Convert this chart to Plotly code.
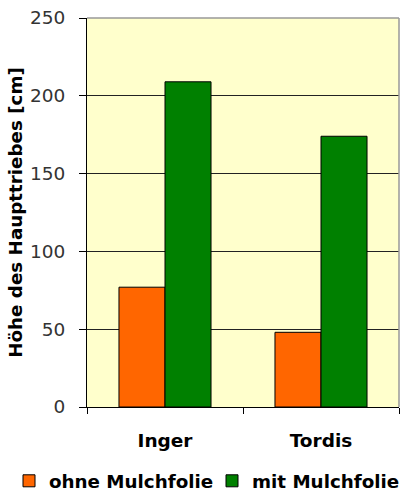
import plotly.graph_objects as go

categories = ["Inger", "Tordis"]
series_names = ["ohne Mulchfolie", "mit Mulchfolie"]
ohne_values = [77, 48]
mit_values = [209, 174]
y_ticks = [0, 50, 100, 150, 200, 250]

FONT = "DejaVu Sans, Verdana, sans-serif"

fig = go.Figure()
fig.add_trace(go.Bar(name=series_names[0], x=categories, y=ohne_values, legendwidth=158,
                     marker=dict(color="#FF6600", line=dict(color="#000000", width=1))))
fig.add_trace(go.Bar(name=series_names[1], x=categories, y=mit_values, legendwidth=148,
                     marker=dict(color="#008000", line=dict(color="#000000", width=1))))

fig.update_layout(
    width=400, height=500,
    margin=dict(l=87, r=1, t=18, b=93, autoexpand=False),
    paper_bgcolor="white", plot_bgcolor="#FFFFCC",
    barmode="group", bargap=0.41, bargroupgap=0,
    font=dict(family=FONT, color="#000000"),
    showlegend=True,
    legend=dict(orientation="h", x=-0.25, xanchor="left", y=-0.19, yanchor="middle",
                font=dict(family=FONT, size=18.3, color="#000000", weight="bold"),
                itemwidth=30, traceorder="normal", tracegroupgap=0,
                bgcolor="rgba(0,0,0,0)"),
    shapes=[
        dict(type="line", xref="paper", yref="paper", x0=0, x1=1, y0=1, y1=1,
             line=dict(color="#999999", width=1.5), layer="above"),
        dict(type="line", xref="paper", yref="paper", x0=1, x1=1, y0=0, y1=1,
             line=dict(color="#999999", width=1.5), layer="above"),
    ],
)
fig.update_xaxes(
    showline=True, linecolor="#000000", linewidth=1,
    ticks="outside", tickson="boundaries", ticklen=6, tickcolor="#000000",
    tickfont=dict(family=FONT, size=18.5, color="#000000", weight="bold"),
    ticklabelstandoff=17, showgrid=False, automargin=False,
)
fig.update_yaxes(
    range=[0, 250], tickvals=y_ticks, showline=True, linecolor="#000000", linewidth=1,
    ticks="outside", ticklen=7, tickcolor="#000000",
    tickfont=dict(family=FONT, size=18.5, color="#333333"),
    ticklabelstandoff=10,
    showgrid=True, gridcolor="#222222", gridwidth=1, zeroline=False,
    title=dict(text="Höhe des Haupttriebes [cm]", standoff=2,
               font=dict(family=FONT, size=18.3, color="#000000", weight="bold")),
    automargin=False,
)

fig.write_html("out.html", config={"displayModeBar": False},
               post_script="document.body.style.margin='0';")
